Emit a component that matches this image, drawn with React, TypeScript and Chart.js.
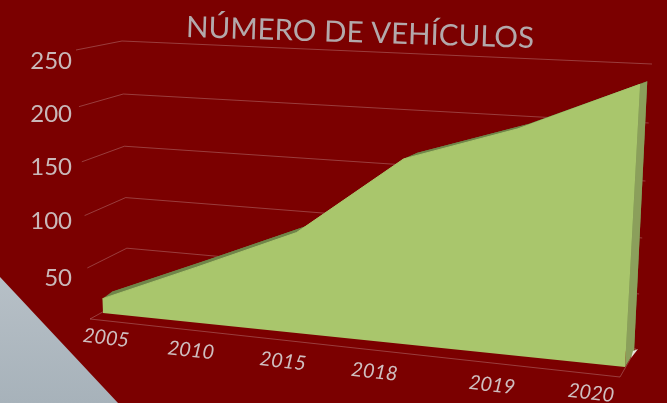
import React, { useEffect, useRef } from "react";
import { Chart, registerables } from "chart.js";

Chart.register(...registerables);

const TITLE = "NÚMERO DE VEHÍCULOS";
const categories = ["2005", "2010", "2015", "2018", "2019", "2020"];
const vehicles = [14, 53, 93, 165, 196, 237];
const yTicks = { min: 0, max: 250, step: 50 };
const xLabelNudgeX = [16, 6, -2, -16, -10, -29];
const xLabelNudgeY = [19, 21, 21, 20, 21, 16];
const yLabelNudgeY = [0, 10, 6, 5, 8, 11];

type P = [number, number];
// Projection planes: corners at (u,v) = (0,0), (1,0), (1,1), (0,1)
const AREA_FRONT: P[] = [[103, 313], [625, 367], [641, 68], [93, 47]];
const AREA_REAR: P[] = [[112, 306], [634, 352], [648, 66], [110, 46]];
const WALL_BACK: P[] = [[128, 298], [636, 349], [652, 64], [122, 41]];
const WALL_FRONT: P[] = [[90, 319], [620, 377], [645, 70], [76, 50]];

function homography(c: P[]) {
  const [[x0, y0], [x1, y1], [x2, y2], [x3, y3]] = c;
  const dx1 = x1 - x2, dx2 = x3 - x2, sx = x0 - x1 + x2 - x3;
  const dy1 = y1 - y2, dy2 = y3 - y2, sy = y0 - y1 + y2 - y3;
  const den = dx1 * dy2 - dx2 * dy1;
  const g = (sx * dy2 - dx2 * sy) / den;
  const h = (dx1 * sy - sx * dy1) / den;
  const a = x1 - x0 + g * x1, b = x3 - x0 + h * x3;
  const d = y1 - y0 + g * y1, e = y3 - y0 + h * y3;
  return (u: number, v: number): P => {
    const w = g * u + h * v + 1;
    return [(a * u + b * v + x0) / w, (d * u + e * v + y0) / w];
  };
}
const front = homography(AREA_FRONT);
const rear = homography(AREA_REAR);
const back = homography(WALL_BACK);
const wall = homography(WALL_FRONT);

const normU = (c: any, i: number) => (c.scales.x.getPixelForValue(i) - c.chartArea.left) / (c.chartArea.right - c.chartArea.left);
const normV = (c: any, val: number) => (c.chartArea.bottom - c.scales.y.getPixelForValue(val)) / (c.chartArea.bottom - c.chartArea.top);

function poly(ctx: CanvasRenderingContext2D, pts: P[], fill: string) {
  ctx.beginPath();
  pts.forEach((p, i) => (i ? ctx.lineTo(p[0], p[1]) : ctx.moveTo(p[0], p[1])));
  ctx.closePath();
  ctx.fillStyle = fill;
  ctx.fill();
}
function path(ctx: CanvasRenderingContext2D, pts: P[], stroke: string, width: number) {
  ctx.beginPath();
  pts.forEach((p, i) => (i ? ctx.lineTo(p[0], p[1]) : ctx.moveTo(p[0], p[1])));
  ctx.strokeStyle = stroke;
  ctx.lineWidth = width;
  ctx.stroke();
}

const GRID = "rgba(205,160,160,0.38)";
const FRONT_FILL = "#a9c66c";
const RIDGE = "#6f8549";
const SIDE = "#8b9f5b";

const perspective = {
  id: "perspective",
  afterDatasetsUpdate(c: any) {
    const meta = c.getDatasetMeta(0);
    meta.data.forEach((el: any, i: number) => {
      const [x, y] = front(normU(c, i), normV(c, vehicles[i]));
      el.x = x;
      el.y = y;
    });
  },
  beforeDatasetsDraw(c: any) {
    const ctx: CanvasRenderingContext2D = c.ctx;
    ctx.save();
    // walls and floor
    c.scales.y.ticks.forEach((t: any) => {
      const v = normV(c, t.value);
      path(ctx, [wall(0, v), back(0, v), back(1, v)], GRID, 1);
    });
    path(ctx, [wall(0, 0), wall(1, 0), back(1, 0)], GRID, 1);

    // extruded area
    const us = categories.map((_, i) => normU(c, i));
    const vs = vehicles.map((val) => normV(c, val));
    const topF = us.map((u, i) => front(u, vs[i]));
    const topR = us.map((u, i) => rear(u, vs[i]));
    poly(ctx, [rear(0, 0), ...topR, rear(1, 0)], RIDGE);
    for (let i = 0; i < us.length - 1; i++) {
      poly(ctx, [topF[i], topF[i + 1], topR[i + 1], topR[i]], RIDGE);
    }
    const last = us.length - 1;
    poly(ctx, [front(us[last], 0), topF[last], topR[last], rear(us[last], 0)], SIDE);
    const tip = rear(us[last], 0);
    poly(ctx, [[tip[0] - 1, tip[1] - 1], [tip[0] + 4, tip[1] - 3], [tip[0] - 3, tip[1] + 6]], "#e4e6da");
    poly(ctx, [front(0, 0), ...topF, front(1, 0)], FRONT_FILL);
    ctx.restore();
  },
  afterDatasetsDraw(c: any) {
    const ctx: CanvasRenderingContext2D = c.ctx;
    ctx.save();
    // value labels
    ctx.font = "24px Lato";
    ctx.fillStyle = "#c9b8b9";
    ctx.textAlign = "right";
    ctx.textBaseline = "middle";
    c.scales.y.ticks.forEach((t: any, i: number) => {
      if (!t.label) return;
      const [, y] = wall(0, normV(c, t.value));
      ctx.fillText(String(t.label), 72, y + yLabelNudgeY[i]);
    });
    // category labels
    ctx.font = "italic 20px Lato";
    ctx.fillStyle = "#cfbfc0";
    ctx.textAlign = "center";
    c.scales.x.ticks.forEach((t: any, i: number) => {
      const [x, y] = wall(normU(c, i), 0);
      ctx.save();
      ctx.translate(x + xLabelNudgeX[i], y + xLabelNudgeY[i]);
      ctx.rotate((6.5 * Math.PI) / 180);
      ctx.fillText(String(t.label), 0, 0);
      ctx.restore();
    });
    // title
    ctx.font = "29.5px Lato";
    ctx.fillStyle = "#b3a9ab";
    ctx.translate(360, 33);
    ctx.rotate((1.8 * Math.PI) / 180);
    ctx.fillText(TITLE, 0, 0);
    ctx.restore();
  },
};

export default function App() {
  const ref = useRef<HTMLCanvasElement>(null);
  useEffect(() => {
    document.body.style.margin = "0";
    const chart = new Chart(ref.current!, {
      type: "line",
      data: {
        labels: categories,
        datasets: [
          {
            label: TITLE,
            data: vehicles,
            borderColor: FRONT_FILL,
            borderWidth: 1,
            pointRadius: 0,
            fill: false,
            tension: 0,
            clip: false,
          },
        ],
      },
      options: {
        responsive: false,
        animation: false,
        layout: { padding: 0 },
        plugins: { legend: { display: false }, tooltip: { enabled: false } },
        scales: {
          x: { display: false },
          y: {
            display: false,
            min: yTicks.min,
            max: yTicks.max,
            ticks: { stepSize: yTicks.step, callback: (v: any) => (v === 0 ? "" : String(v)) },
          },
        },
      },
      plugins: [perspective],
    } as any);
    return () => chart.destroy();
  }, []);
  return (
    <div style={{ position: "relative", width: 667, height: 403, overflow: "hidden", background: "#7b0000" }}>
      <div
        style={{
          position: "absolute",
          inset: 0,
          background: "linear-gradient(180deg,#b7c0c7 68%,#a7b2ba 100%)",
          clipPath: "polygon(0 277px, 118px 403px, 0 403px)",
        }}
      />
      <canvas ref={ref} width={667} height={403} style={{ position: "absolute", left: 0, top: 0 }} />
    </div>
  );
}
